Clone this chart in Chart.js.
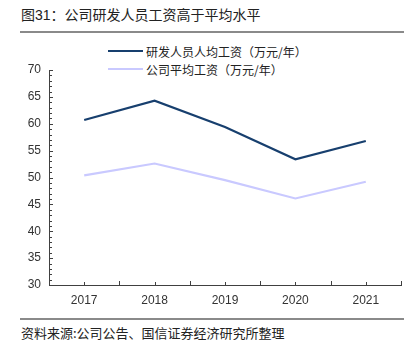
<!DOCTYPE html>
<html>
<head>
<meta charset="utf-8">
<script src="https://cdn.jsdelivr.net/npm/chart.js@4/dist/chart.umd.min.js"></script>
<style>
  body { margin: 0; width: 413px; height: 347px; background: #fff; position: relative; overflow: hidden;
         font-family: "Liberation Sans", "Noto Sans CJK SC", sans-serif; color: #222; }
  #title { position: absolute; left: 21px; top: 5px; font-size: 14px; line-height: 20px;
           font-family: "Liberation Sans", "Noto Sans CJK SC", sans-serif; white-space: nowrap; }
  .rule { position: absolute; left: 20px; width: 384px; height: 1.5px; background: #8a8a8a; }
  #legend { position: absolute; left: 108px; top: 42px; font-size: 12px;
            font-family: "Noto Sans CJK SC", sans-serif; }
  .item { height: 18px; display: flex; align-items: center; white-space: nowrap; }
  .swatch { width: 35px; height: 2.5px; margin-right: 3px; }
  #wrap { position: absolute; left: 0; top: 38px; }
  #source { position: absolute; left: 21px; top: 323px; font-size: 13px; line-height: 20px;
            font-family: "Noto Sans CJK SC", sans-serif; white-space: nowrap; }
</style>
</head>
<body>
<div id="title">图31：公司研发人员工资高于平均水平</div>
<div class="rule" style="top:31px"></div>
<div id="legend"></div>
<div id="wrap"><canvas id="wageChart" width="413" height="272"></canvas></div>
<div class="rule" style="top:318px"></div>
<div id="source">资料来源:公司公告、国信证券经济研究所整理</div>
<script>
const years = ["2017", "2018", "2019", "2020", "2021"];
const rdWage = [60.7, 64.3, 59.4, 53.4, 56.8];
const avgWage = [50.4, 52.6, 49.5, 46.1, 49.2];
const seriesNames = ["研发人员人均工资（万元/年）", "公司平均工资（万元/年）"];
const seriesColors = ["#173f6e", "#c9c9ff"];
const yMin = 30, yMax = 70, yStep = 5;

const axisColor = "#404040";

// small tick marks on the inside of both axes
const innerTicks = {
  id: "innerTicks",
  afterDraw(chart) {
    const { ctx, scales: { x, y } } = chart;
    ctx.save();
    ctx.strokeStyle = axisColor;
    ctx.lineWidth = 1;
    ctx.beginPath();
    for (let v = yMin; v <= yMax; v++) {
      const py = Math.round(y.getPixelForValue(v)) + 0.5;
      ctx.moveTo(x.left, py);
      ctx.lineTo(x.left + (v % yStep === 0 ? 4 : 3), py);
    }
    for (let i = 0; i <= years.length; i++) {
      const bx = Math.round(x.getPixelForValue(i - 0.5)) + 0.5;
      ctx.moveTo(bx, y.bottom);
      ctx.lineTo(bx, y.bottom - 4);
      if (i < years.length) {
        const cx = Math.round(x.getPixelForValue(i)) + 0.5;
        ctx.moveTo(cx, y.bottom);
        ctx.lineTo(cx, y.bottom - 3);
      }
    }
    ctx.stroke();
    ctx.restore();
  },
};

const tickFont = { family: "Liberation Sans, Arial, sans-serif", size: 12 };

const chart = new Chart(document.getElementById("wageChart"), {
  type: "line",
  data: {
    labels: years,
    datasets: [
      { label: seriesNames[0], data: rdWage, borderColor: seriesColors[0], borderWidth: 2.2 },
      { label: seriesNames[1], data: avgWage, borderColor: seriesColors[1], borderWidth: 2.2 },
    ],
  },
  options: {
    responsive: false,
    animation: false,
    layout: { padding: { top: 32, right: 12, left: 0, bottom: 0 } },
    elements: { point: { radius: 0 }, line: { tension: 0 } },
    plugins: { legend: { display: false }, tooltip: { enabled: false } },
    scales: {
      x: {
        offset: true,
        grid: { display: false, drawTicks: false },
        border: { display: true, color: axisColor, width: 1 },
        ticks: { color: "#333", font: tickFont, padding: 8 },
        afterFit(s) { s.height = 25; },
      },
      y: {
        min: yMin,
        max: yMax,
        grid: { display: false, drawTicks: false },
        border: { display: true, color: axisColor, width: 1 },
        ticks: { stepSize: yStep, color: "#333", font: tickFont, padding: 8 },
        afterFit(s) { s.width = 49; },
      },
    },
  },
  plugins: [innerTicks],
});

// html legend from the dataset names/colours
const legend = document.getElementById("legend");
chart.data.datasets.forEach((ds) => {
  const row = document.createElement("div");
  row.className = "item";
  const sw = document.createElement("span");
  sw.className = "swatch";
  sw.style.background = ds.borderColor;
  const txt = document.createElement("span");
  txt.textContent = ds.label;
  row.appendChild(sw);
  row.appendChild(txt);
  legend.appendChild(row);
});
</script>
</body>
</html>
